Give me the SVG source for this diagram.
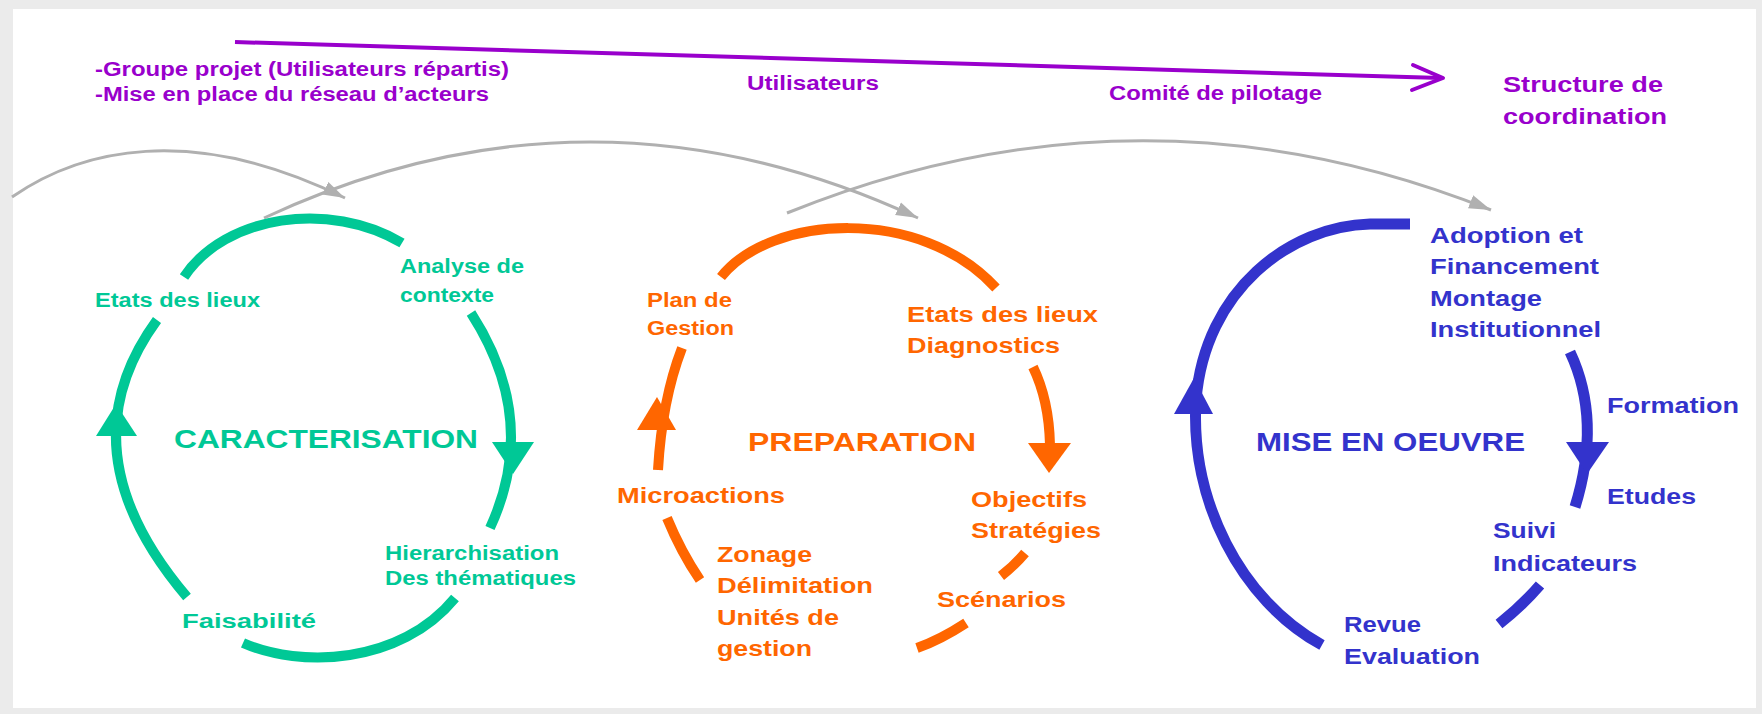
<svg xmlns="http://www.w3.org/2000/svg" width="1762" height="714" viewBox="0 0 1762 714">
<style>
text{font-family:"Liberation Sans",Arial,sans-serif;font-weight:bold}
.pt{fill:#9900cc;font-size:20px}
.pt2{fill:#9900cc;font-size:22.5px}
.gt{fill:#00c896;font-size:19.5px}
.ot{fill:#ff6600;font-size:22.5px}
.ot2{fill:#ff6600;font-size:20px}
.bt{fill:#3333cc;font-size:22.5px}
.ttl{font-size:26px}
.ga{fill:none;stroke:#00c896;stroke-width:10}
.oa{fill:none;stroke:#ff6600;stroke-width:10}
.ba{fill:none;stroke:#3333cc;stroke-width:11}
.gray{fill:none;stroke:#b0b0b0;stroke-width:3}
</style>
<defs>
<marker id="ah" markerUnits="userSpaceOnUse" markerWidth="24" markerHeight="16" viewBox="0 0 24 16" refX="22" refY="8" orient="auto">
<path d="M0,1 L22,8 L0,15 z" fill="#b0b0b0"/>
</marker>
</defs>
<rect x="0" y="0" width="1762" height="714" fill="#ebebeb"/>
<rect x="13" y="9" width="1743" height="699" fill="#ffffff"/>

<g id="connectors">
<path class="gray" d="M12,197 C80,150 190,122 345,198" marker-end="url(#ah)"/>
<path class="gray" d="M264,218 Q590,66 918,218" marker-end="url(#ah)"/>
<path class="gray" d="M787,213 Q1140,70 1491,210" marker-end="url(#ah)"/>
<path d="M235,42 L1441,78" fill="none" stroke="#9900cc" stroke-width="4"/>
<path d="M1413,65 L1443,78 L1412,90" fill="none" stroke="#9900cc" stroke-width="4" stroke-linecap="round" stroke-linejoin="round"/>
</g>

<g id="top-labels">
<text class="pt" x="95" y="76" textLength="414" lengthAdjust="spacingAndGlyphs">-Groupe projet (Utilisateurs répartis)</text>
<text class="pt" x="95" y="101" textLength="394" lengthAdjust="spacingAndGlyphs">-Mise en place du réseau d’acteurs</text>
<text class="pt" x="747" y="90" textLength="132" lengthAdjust="spacingAndGlyphs">Utilisateurs</text>
<text class="pt" x="1109" y="100" textLength="213" lengthAdjust="spacingAndGlyphs">Comité de pilotage</text>
<text class="pt2" x="1503" y="92" textLength="160" lengthAdjust="spacingAndGlyphs">Structure de</text>
<text class="pt2" x="1503" y="124" textLength="164" lengthAdjust="spacingAndGlyphs">coordination</text>
</g>

<g id="caracterisation">
<path class="ga" d="M184,277 C225,215 330,200 402,243"/>
<path class="ga" d="M471,313 Q540,420 490,528"/>
<path class="ga" d="M455,598 C400,665 300,668 243,643"/>
<path class="ga" d="M157,320 Q62,450 187,597"/>
<polygon points="96,436 137,436 116,404" fill="#00c896"/>
<polygon points="492,442 534,442 513,474" fill="#00c896"/>
<text class="gt ttl" x="174" y="448" textLength="304" lengthAdjust="spacingAndGlyphs">CARACTERISATION</text>
<text class="gt" x="95" y="307" textLength="165" lengthAdjust="spacingAndGlyphs">Etats des lieux</text>
<text class="gt" x="400" y="273" textLength="124" lengthAdjust="spacingAndGlyphs">Analyse de</text>
<text class="gt" x="400" y="302" textLength="94" lengthAdjust="spacingAndGlyphs">contexte</text>
<text class="gt" x="385" y="560" textLength="174" lengthAdjust="spacingAndGlyphs">Hierarchisation</text>
<text class="gt" x="385" y="585" textLength="191" lengthAdjust="spacingAndGlyphs">Des thématiques</text>
<text class="gt" x="182" y="628" textLength="134" lengthAdjust="spacingAndGlyphs">Faisabilité</text>
</g>

<g id="preparation">
<path class="oa" d="M721,277 C770,215 920,205 996,288"/>
<path class="oa" d="M1033,367 Q1049,400 1050,445"/>
<path class="oa" d="M682,348 Q662,400 658,470"/>
<path class="oa" d="M667,518 Q681,552 700,580"/>
<path class="oa" d="M1025,553 Q1014,566 1001,576"/>
<path class="oa" d="M966,623 Q940,640 917,648"/>
<polygon points="637,430 676,430 657,397" fill="#ff6600"/>
<polygon points="1028,443 1071,443 1049,473" fill="#ff6600"/>
<text class="ot ttl" x="748" y="451" textLength="228" lengthAdjust="spacingAndGlyphs">PREPARATION</text>
<text class="ot2" x="647" y="307" textLength="85" lengthAdjust="spacingAndGlyphs">Plan de</text>
<text class="ot2" x="647" y="335" textLength="87" lengthAdjust="spacingAndGlyphs">Gestion</text>
<text class="ot" x="907" y="322" textLength="191" lengthAdjust="spacingAndGlyphs">Etats des lieux</text>
<text class="ot" x="907" y="353" textLength="153" lengthAdjust="spacingAndGlyphs">Diagnostics</text>
<text class="ot" x="617" y="503" textLength="168" lengthAdjust="spacingAndGlyphs">Microactions</text>
<text class="ot" x="717" y="562" textLength="95" lengthAdjust="spacingAndGlyphs">Zonage</text>
<text class="ot" x="717" y="593" textLength="156" lengthAdjust="spacingAndGlyphs">Délimitation</text>
<text class="ot" x="717" y="625" textLength="122" lengthAdjust="spacingAndGlyphs">Unités de</text>
<text class="ot" x="717" y="656" textLength="95" lengthAdjust="spacingAndGlyphs">gestion</text>
<text class="ot" x="971" y="507" textLength="116" lengthAdjust="spacingAndGlyphs">Objectifs</text>
<text class="ot" x="971" y="538" textLength="130" lengthAdjust="spacingAndGlyphs">Stratégies</text>
<text class="ot" x="937" y="607" textLength="129" lengthAdjust="spacingAndGlyphs">Scénarios</text>
</g>

<g id="mise-en-oeuvre">
<path class="ba" d="M1410,224 L1370,224 C1290,226 1205,290 1196,400 C1190,500 1240,600 1322,645"/>
<path class="ba" d="M1570,352 Q1602,420 1575,507"/>
<path class="ba" d="M1540,585 Q1522,606 1499,624"/>
<polygon points="1174,414 1213,414 1194,378" fill="#3333cc"/>
<polygon points="1566,442 1609,442 1587,474" fill="#3333cc"/>
<text class="bt ttl" x="1256" y="451" textLength="269" lengthAdjust="spacingAndGlyphs">MISE EN OEUVRE</text>
<text class="bt" x="1430" y="243" textLength="153" lengthAdjust="spacingAndGlyphs">Adoption et</text>
<text class="bt" x="1430" y="274" textLength="169" lengthAdjust="spacingAndGlyphs">Financement</text>
<text class="bt" x="1430" y="306" textLength="112" lengthAdjust="spacingAndGlyphs">Montage</text>
<text class="bt" x="1430" y="337" textLength="171" lengthAdjust="spacingAndGlyphs">Institutionnel</text>
<text class="bt" x="1607" y="413" textLength="132" lengthAdjust="spacingAndGlyphs">Formation</text>
<text class="bt" x="1607" y="504" textLength="89" lengthAdjust="spacingAndGlyphs">Etudes</text>
<text class="bt" x="1493" y="538" textLength="63" lengthAdjust="spacingAndGlyphs">Suivi</text>
<text class="bt" x="1493" y="571" textLength="144" lengthAdjust="spacingAndGlyphs">Indicateurs</text>
<text class="bt" x="1344" y="632" textLength="77" lengthAdjust="spacingAndGlyphs">Revue</text>
<text class="bt" x="1344" y="664" textLength="136" lengthAdjust="spacingAndGlyphs">Evaluation</text>
</g>
</svg>
